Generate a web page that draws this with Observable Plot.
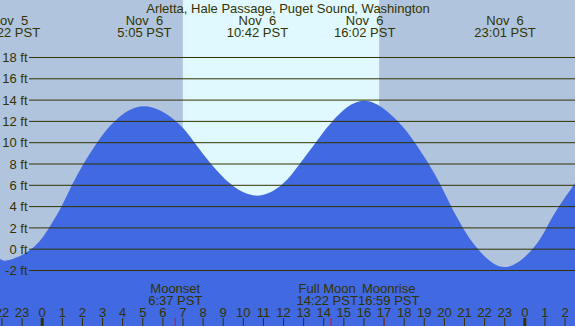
<!DOCTYPE html>
<html><head><meta charset="utf-8">
<script src="https://cdn.jsdelivr.net/npm/d3@7"></script>
<script src="https://cdn.jsdelivr.net/npm/@observablehq/plot@0.6"></script>
<style>
html,body{margin:0;padding:0;background:#fff;}
svg text{white-space:pre;}
</style></head><body><div id="chart"></div>
<script>
// ---- data ----
const title = "Arletta, Hale Passage, Puget Sound, Washington";
// tide height (ft) vs hours since Nov 6 00:00 PST
const tideHours = [-2.074, -1.633, -0.497, 0.378, 0.995, 1.510, 2.088, 2.765, 3.645, 5.083,
  6.663, 7.588, 8.404, 9.448, 10.7, 11.934, 12.844, 13.640, 14.470, 16.033,
  17.693, 18.540, 19.234, 19.830, 20.353, 20.935, 21.681, 23.017,
  24.416, 25.112, 25.738, 26.469, 26.52];
const tideFeet = [-0.94, -1.07, 0, 2, 4, 6, 8, 10, 12, 13.37,
  12, 10, 8, 6, 4.98, 6, 8, 10, 12, 13.9,
  12, 10, 8, 6, 4, 2, 0, -1.72,
  0, 2, 4, 6, 6.15];
// high / low tide labels
const extremeHours = [-1.633, 5.083, 10.7, 16.033, 23.017];
const extremeDates = ["Nov  5", "Nov  6", "Nov  6", "Nov  6", "Nov  6"];
const extremeTimes = ["22:22 PST", "5:05 PST", "10:42 PST", "16:02 PST", "23:01 PST"];
// moon events
const moonHours = [6.617, 14.367, 16.983];
const moonNames = ["Moonset", "Full Moon", "Moonrise"];
const moonTimes = ["6:37 PST", "14:22 PST", "16:59 PST"];
// daylight (sunrise, sunset)
const sunrise = 7.02;
const sunset = 16.78;
// axes
const yTicks = [-2, 0, 2, 4, 6, 8, 10, 12, 14, 16, 18];
const hourTicks = [-2, -1, 0, 1, 2, 3, 4, 5, 6, 7, 8, 9, 10, 11, 12, 13, 14, 15, 16, 17, 18, 19, 20, 21, 22, 23, 24, 25, 26];
const midnights = [0, 24];
const xDomain = [-2.074, 26.52];
const yDomain = [-7.258, 23.352];

// ---- build ----
const tide = tideHours.map((h, i) => ({h, ft: tideFeet[i]}));
const extremes = extremeHours.map((h, i) => ({h, label: extremeDates[i] + "\n" + extremeTimes[i]}));
const moon = moonHours.map((h, i) => ({h, label: moonNames[i] + "\n" + moonTimes[i]}));
const ink = "#333300";
const font = 13;
const hourLabel = h => String(((h % 24) + 24) % 24);

const chart = Plot.plot({
  width: 575,
  height: 326,
  marginTop: 0, marginRight: 0, marginBottom: 0, marginLeft: 0,
  x: {domain: xDomain, axis: null},
  y: {domain: yDomain, axis: null},
  style: {background: "#B0C4DE", fontFamily: "'Liberation Sans', Arial, sans-serif", fontSize: "13px"},
  marks: [
    Plot.rect([{a: sunrise, b: sunset}], {x1: "a", x2: "b", fill: "#E0F8FF"}),
    Plot.areaY(tide, {x: "h", y1: () => yDomain[0], y2: "ft", fill: "#4169E1", curve: "natural"}),
    Plot.ruleY(yTicks, {y: d => d, insetLeft: 29, stroke: ink, strokeWidth: 1}),
    Plot.text(yTicks, {y: d => d, text: d => d + " ft", frameAnchor: "left", dx: 27, dy: 0.5, textAnchor: "end", fill: ink, fontSize: font}),
    Plot.text([title], {text: d => d, frameAnchor: "top", dy: 12, lineAnchor: "bottom", fill: ink, fontSize: font}),
    Plot.text(extremes, {x: "h", text: "label", frameAnchor: "top", dy: 36, lineAnchor: "bottom", lineHeight: 12 / 13, fill: ink, fontSize: font}),
    Plot.text(moon.slice(0, 1), {x: "h", text: "label", frameAnchor: "bottom", dy: -22, lineAnchor: "bottom", lineHeight: 12 / 13, fill: ink, fontSize: font}),
    Plot.text(moon.slice(1, 2), {x: "h", text: "label", frameAnchor: "bottom", dy: -22, dx: -4, lineAnchor: "bottom", lineHeight: 12 / 13, fill: ink, fontSize: font}),
    Plot.text(moon.slice(2, 3), {x: "h", text: "label", frameAnchor: "bottom", dy: -22, dx: 5, lineAnchor: "bottom", lineHeight: 12 / 13, fill: ink, fontSize: font}),
    Plot.text(hourTicks, {x: d => d, text: hourLabel, frameAnchor: "bottom", dy: -10, lineAnchor: "bottom", fill: ink, fontSize: font}),
    Plot.ruleX(hourTicks, {x: d => d, insetTop: 318, stroke: ink, strokeWidth: 1}),
    Plot.ruleX(midnights, {x: d => d, insetTop: 318, stroke: ink, strokeWidth: 3}),
    Plot.ruleX(moonHours, {x: d => d, insetTop: 318, stroke: "#FF0000", strokeWidth: 1})
  ]
});
document.getElementById("chart").appendChild(chart);
</script>
</body></html>
